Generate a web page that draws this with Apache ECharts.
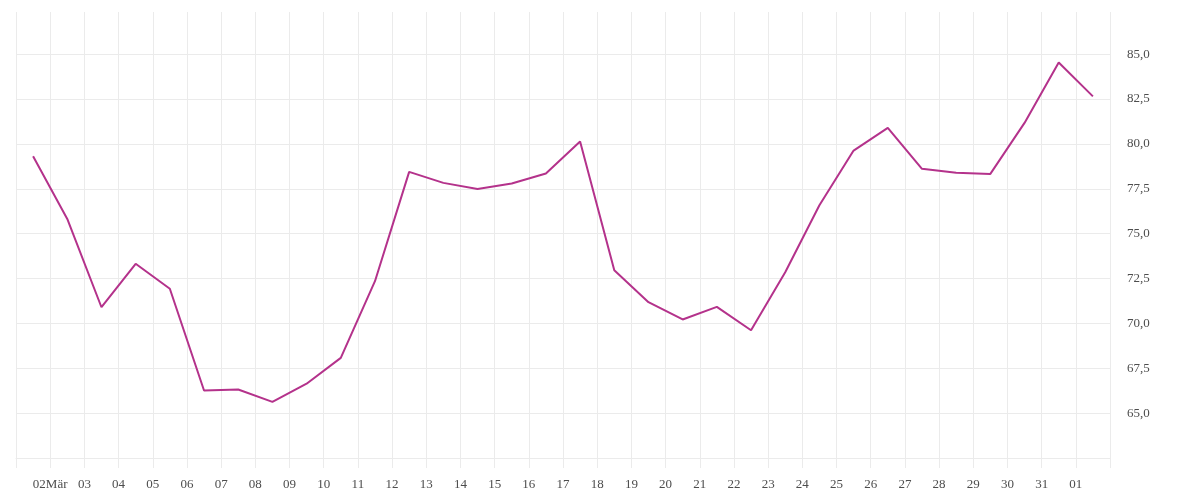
<!DOCTYPE html>
<html>
<head>
<meta charset="utf-8">
<script src="https://cdn.jsdelivr.net/npm/echarts@6/dist/echarts.min.js"></script>
<style>
html,body{margin:0;padding:0;background:#fff;}
#chart{width:1200px;height:500px;}
</style>
</head>
<body>
<div id="chart"></div>
<script>
// Day positions (day index from 1 March, mid-day points)
const dayIndex = [0,1,2,3,4,5,6,7,8,9,10,11,12,13,14,15,16,17,18,19,20,21,22,23,24,25,26,27,28,29,30,31];
const values = [79.31,75.82,70.90,73.32,71.93,66.26,66.32,65.63,66.64,68.08,72.35,78.44,77.83,77.49,77.79,78.35,80.14,72.96,71.18,70.22,70.92,69.62,72.85,76.58,79.63,80.89,78.61,78.39,78.33,81.17,84.54,82.65];
const xTickLabels = ["","02Mär","03","04","05","06","07","08","09","10","11","12","13","14","15","16","17","18","19","20","21","22","23","24","25","26","27","28","29","30","31","01",""];

const data = dayIndex.map((d, i) => [d + 0.5, values[i]]);
const gridColor = '#ebebeb';
const labelFont = { color: '#4d4d4d', fontFamily: 'Liberation Serif', fontSize: 13 };

const chart = echarts.init(document.getElementById('chart'), null, { renderer: 'canvas' });
chart.setOption({
  animation: false,
  backgroundColor: '#fff',
  grid: { left: 16, right: 90, top: 12, bottom: 42, containLabel: false },
  xAxis: {
    type: 'value',
    min: 0, max: 32, interval: 1,
    axisLine: { show: true, lineStyle: { color: gridColor, width: 1 } },
    axisTick: { show: true, length: 10, lineStyle: { color: gridColor, width: 1 } },
    splitLine: { show: true, lineStyle: { color: gridColor, width: 1 } },
    axisLabel: Object.assign({
      margin: 20,
      formatter: v => xTickLabels[Math.round(v)] || ''
    }, labelFont)
  },
  yAxis: {
    type: 'value',
    position: 'right',
    min: 62.5, max: 87.35, interval: 2.5,
    axisLine: { show: false },
    axisTick: { show: false },
    splitLine: { show: true, showMaxLine: false, lineStyle: { color: gridColor, width: 1 } },
    axisLabel: Object.assign({
      margin: 17,
      padding: [4, 0, 0, 0],
      showMinLabel: false,
      showMaxLabel: false,
      formatter: v => v.toFixed(1).replace('.', ',')
    }, labelFont)
  },
  series: [{
    type: 'line',
    data: data,
    showSymbol: false,
    symbol: 'none',
    smooth: false,
    lineStyle: { color: '#b4328b', width: 2 },
    itemStyle: { color: '#b4328b' }
  }]
});
</script>
</body>
</html>
